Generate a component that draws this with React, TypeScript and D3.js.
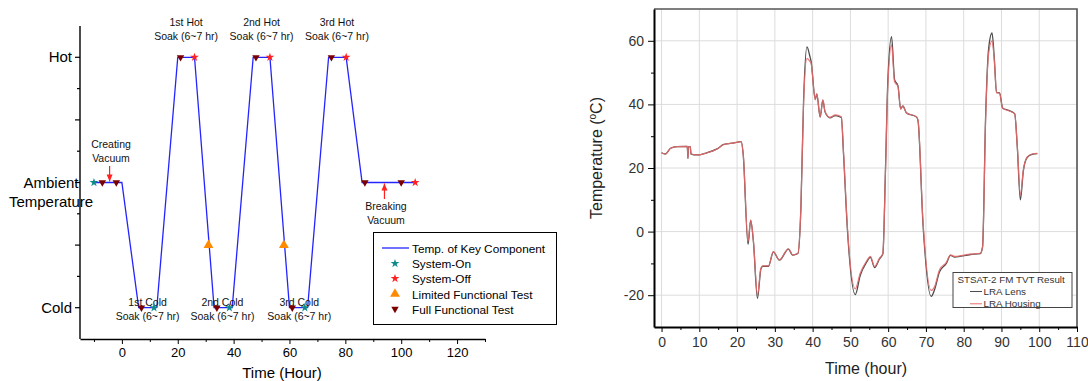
import React, { useEffect, useRef } from 'react';
import * as d3 from 'd3';

// ---- left: TVT test profile (level 0 = cold, 4 = ambient, 8 = hot) ----
const profileTime = [-10, 0, 6, 12.5, 20, 26, 33, 39.5, 47, 53, 60, 66.5, 74, 80.3, 86, 105];
const profileLevel = [4, 4, 0, 0, 8, 8, 0, 0, 8, 8, 0, 0, 8, 8, 4, 4];

const systemOnTime = [-10, 11.5, 38.5, 65.5];
const systemOnLevel = [4, 0, 0, 0];
const systemOffTime = [26, 53, 80.3, 105];
const systemOffLevel = [8, 8, 8, 4];
const limitedTestTime = [31, 58];
const limitedTestLevel = [2, 2];
const fullTestTime = [-7, -2, 7, 21, 34, 48, 61, 75, 87, 100];
const fullTestLevel = [4, 4, 0, 8, 0, 8, 0, 8, 4, 4];

const levelTicks = [0, 4, 8];
const levelNames = ['Cold', 'Ambient', 'Hot'];
const hotSoakNames = ['1st Hot', '2nd Hot', '3rd Hot'];
const hotSoakCenter = [23, 50, 77];
const coldSoakNames = ['1st Cold', '2nd Cold', '3rd Cold'];
const coldSoakCenter = [9.2, 36, 63.5];
const soakText = 'Soak (6~7 hr)';
const profileTicks = [0, 20, 40, 60, 80, 100, 120];
const profileMinorTicks = [-10, 10, 30, 50, 70, 90, 110, 130];
const profileLegend = ['Temp. of Key Component', 'System-On', 'System-Off', 'Limited Functional Test', 'Full Functional Test'];

// ---- right: STSAT-2 FM TVT result ----
const tvtTime = [0, 1, 2.4, 4.1, 6.8, 7.0, 7.1, 7.6, 7.8, 9.4, 12.1, 14.7, 16.5, 19.2, 21.1, 21.6, 22.9, 23.6, 24.3, 25.4,
	26.3, 26.8, 28.3, 29.6, 31.2, 33.6, 34.7, 36.1, 36.9, 37.6, 38.5, 39.3, 39.6, 40.7, 41.1, 42, 42.7, 43.3, 44.6, 46,
	47.6, 48.2, 49.2, 51.3, 52.6, 54.2, 55.3, 56.4, 57.7, 58.6, 59.3, 59.9, 60.9, 61.7, 62.6, 63.3, 63.9, 64.8, 67.5, 67.9,
	69.2, 71.4, 72.3, 73.6, 75.4, 76.5, 77.6, 81.8, 84.4, 85.0, 85.8, 86.6, 87.5, 88.1, 88.7, 89.5, 90.3, 91.9, 93.5, 94.2,
	95.0, 95.8, 96.8, 98.1, 99.5];
const housingTemp = [24.8, 24.4, 26.2, 26.7, 26.8, 23.0, 26.7, 26.7, 24.4, 24.1, 24.8, 26.0, 27.4, 27.9, 28.3, 24.6, -3.1, 3.7, -2.6, -20.0,
	-11.5, -10.8, -10.8, -6.3, -8.9, -5.4, -7.3, -6.8, 7.9, 40.3, 54.5, 53.5, 52.9, 41.4, 43.3, 36.1, 41.4, 37.7, 35.9, 36.7,
	36.1, 24.6, 1.6, -18.0, -13.1, -9.4, -7.8, -11.0, -8.4, -6.8, 19.4, 45.6, 58.7, 47.1, 45.6, 38.5, 39.5, 37.4, 36.1, 35.1,
	3.7, -18.5, -17.3, -12.0, -9.7, -7.3, -7.8, -7.1, -6.8, -4.7, 35.1, 56.0, 60.0, 53.9, 43.7, 43.5, 38.8, 38.0, 37.0, 26.7,
	11.5, 19.4, 23.4, 24.4, 24.6];
const lensTemp = [24.8, 24.4, 26.2, 26.7, 26.8, 23.0, 26.7, 26.7, 24.4, 24.1, 24.8, 26.0, 27.4, 27.9, 28.3, 24.6, -4.0, 3.5, -2.8, -21.0,
	-11.8, -10.9, -10.9, -6.4, -9.0, -5.5, -7.4, -6.9, 7.5, 41.0, 58.1, 55.0, 53.5, 41.6, 43.3, 36.0, 41.3, 37.6, 35.8, 36.5,
	35.9, 24.0, 0.8, -19.8, -13.8, -9.8, -8.1, -11.3, -8.6, -7.0, 20.0, 47.0, 61.3, 47.8, 45.8, 38.6, 39.5, 37.4, 36.0, 34.9,
	2.9, -20.4, -18.2, -12.6, -10.0, -7.5, -8.0, -7.2, -6.9, -4.8, 36.0, 57.5, 62.5, 54.5, 43.8, 43.6, 38.9, 38.1, 37.1, 26.5,
	10.0, 19.2, 23.3, 24.3, 24.5];
const tvtTicks = [0, 10, 20, 30, 40, 50, 60, 70, 80, 90, 100, 110];
const tvtMinorTicks = [5, 15, 25, 35, 45, 55, 65, 75, 85, 95, 105];
const tempTicks = [-20, 0, 20, 40, 60];
const tempMinorTicks = [-10, 10, 30, 50];
const tvtLegendTitle = 'STSAT-2 FM TVT Result';
const tvtSeriesNames = ['LRA Lens', 'LRA Housing'];

const FONT = "'Liberation Sans', Arial, sans-serif";
const BLUE = '#2424ff';
const TEAL = '#0f8a8a';
const RED = '#ff2020';
const ORANGE = '#ff8a00';
const DARKRED = '#7a0000';
const LENS = '#4a4a4a';
const HOUSING = '#e86a6a';

function drawProfile(g: d3.Selection<SVGGElement, unknown, null, undefined>) {
	const x = d3.scaleLinear().domain([-15, 130]).range([80, 485]);
	const y = d3.scaleLinear().domain([-1, 9]).range([339, 26]);

	// y axis with long ticks on even levels
	g.append('line').attr('x1', 80).attr('x2', 80).attr('y1', y(9)).attr('y2', y(-1)).attr('stroke', '#000').attr('stroke-width', 1.4);
	d3.range(0, 9).forEach(l => {
		g.append('line')
			.attr('x1', l % 2 === 0 ? 75 : 77)
			.attr('x2', 80)
			.attr('y1', y(l))
			.attr('y2', y(l))
			.attr('stroke', '#000')
			.attr('stroke-width', 1.2);
	});
	levelTicks.forEach((l, i) => {
		const t = g
			.append('text')
			.attr('y', y(l) + 5)
			.attr('font-size', 15)
			.attr('font-family', FONT)
			.attr('fill', '#000');
		if (levelNames[i] === 'Ambient') {
			t.attr('x', 51).attr('text-anchor', 'middle').text('Ambient');
			g.append('text')
				.attr('x', 51)
				.attr('y', y(l) + 24)
				.attr('text-anchor', 'middle')
				.attr('font-size', 15)
				.attr('font-family', FONT)
				.text('Temperature');
		} else {
			t.attr('x', 72).attr('text-anchor', 'end').text(levelNames[i]);
		}
	});

	// x axis
	g.append('g')
		.attr('transform', `translate(0,${y(-1)})`)
		.call(d3.axisBottom(x).tickValues(profileTicks).tickSize(5).tickSizeOuter(0).tickPadding(4))
		.call(a => a.select('.domain').attr('stroke-width', 1.4))
		.call(a => a.selectAll('text').attr('font-size', 13).attr('font-family', FONT).attr('fill', '#000'));
	g.append('g')
		.attr('transform', `translate(0,${y(-1)})`)
		.call(d3.axisBottom(x).tickValues(profileMinorTicks).tickSize(3).tickSizeOuter(0).tickFormat(() => ''))
		.call(a => a.select('.domain').remove());
	g.append('text')
		.attr('x', 282)
		.attr('y', 378)
		.attr('text-anchor', 'middle')
		.attr('font-size', 15)
		.attr('font-family', FONT)
		.text('Time (Hour)');

	// profile line
	const line = d3
		.line<number>()
		.x((_, i) => x(profileTime[i]))
		.y(d => y(d));
	g.append('path').datum(profileLevel).attr('d', line).attr('fill', 'none').attr('stroke', BLUE).attr('stroke-width', 1.3);

	// annotations
	const label = (tx: number, ty: number, s: string) =>
		g.append('text').attr('x', tx).attr('y', ty).attr('text-anchor', 'middle').attr('font-size', 10.5).attr('font-family', FONT).attr('fill', '#111').text(s);
	hotSoakNames.forEach((n, i) => {
		label(x(hotSoakCenter[i]), 26, n);
		label(x(hotSoakCenter[i]), 40, soakText);
	});
	coldSoakNames.forEach((n, i) => {
		label(x(coldSoakCenter[i]), 306, n);
		label(x(coldSoakCenter[i]), 320, soakText);
	});
	label(111, 148, 'Creating');
	label(111, 162, 'Vacuum');
	label(386, 210, 'Breaking');
	label(386, 224, 'Vacuum');

	const arrow = (ax: number, y1: number, y2: number) => {
		g.append('line').attr('x1', ax).attr('x2', ax).attr('y1', y1).attr('y2', y2).attr('stroke', RED).attr('stroke-width', 1.2);
		const dir = y2 > y1 ? -1 : 1;
		g.append('path')
			.attr('d', `M${ax},${y2} L${ax - 3},${y2 + dir * 7} L${ax + 3},${y2 + dir * 7} Z`)
			.attr('fill', RED);
	};
	arrow(x(-4.4), 166, y(4) - 1);
	arrow(x(94), 199, y(4) + 1);

	// markers
	const star = d3.symbol().type(d3.symbolStar).size(24);
	const tri = d3.symbol().type(d3.symbolTriangle).size(42);
	const triDown = d3.symbol().type(d3.symbolTriangle).size(24);
	const drawMarks = (ts: number[], ls: number[], path: string | null, color: string, rot: number) => {
		ts.forEach((t, i) => {
			g.append('path')
				.attr('d', path)
				.attr('transform', `translate(${x(t)},${y(ls[i])}) rotate(${rot})`)
				.attr('fill', color);
		});
	};
	drawMarks(systemOnTime, systemOnLevel, star(), TEAL, 0);
	drawMarks(systemOffTime, systemOffLevel, star(), RED, 0);
	drawMarks(limitedTestTime, limitedTestLevel, tri(), ORANGE, 0);
	drawMarks(fullTestTime, fullTestLevel, triDown(), DARKRED, 180);

	// legend
	const lg = g.append('g');
	lg.append('rect').attr('x', 373.5).attr('y', 232.5).attr('width', 183).attr('height', 92).attr('fill', '#fff').attr('stroke', '#000').attr('stroke-width', 1);
	const rowY = [248, 263.5, 278.5, 294, 309];
	profileLegend.forEach((name, i) => {
		const ry = rowY[i];
		if (i === 0) {
			lg.append('line').attr('x1', 382).attr('x2', 409).attr('y1', ry).attr('y2', ry).attr('stroke', BLUE).attr('stroke-width', 1.3);
		} else {
			const p = i === 1 || i === 2 ? star() : i === 3 ? tri() : triDown();
			const c = [BLUE, TEAL, RED, ORANGE, DARKRED][i];
			lg.append('path').attr('d', p).attr('transform', `translate(395,${ry}) rotate(${i === 4 ? 180 : 0})`).attr('fill', c);
		}
		lg.append('text').attr('x', 412).attr('y', ry + 4.5).attr('font-size', 11.8).attr('font-family', FONT).text(name);
	});
}

function drawTvt(g: d3.Selection<SVGGElement, unknown, null, undefined>) {
	const x = d3.scaleLinear().domain([-2, 110]).range([654, 1077]);
	const y = d3.scaleLinear().domain([-30, 70]).range([327, 9]);

	// grid
	g.selectAll('.vgrid')
		.data(tvtTicks)
		.enter()
		.append('line')
		.attr('x1', d => x(d))
		.attr('x2', d => x(d))
		.attr('y1', y(70))
		.attr('y2', y(-30))
		.attr('stroke', '#dcdcdc')
		.attr('stroke-width', 1);
	g.selectAll('.hgrid')
		.data(tempTicks)
		.enter()
		.append('line')
		.attr('x1', x(-2))
		.attr('x2', x(110))
		.attr('y1', d => y(d))
		.attr('y2', d => y(d))
		.attr('stroke', '#dcdcdc')
		.attr('stroke-width', 1);

	// frame top/right
	g.append('path')
		.attr('d', `M${x(-2)},${y(70)} H${x(110)} V${y(-30)}`)
		.attr('fill', 'none')
		.attr('stroke', '#555')
		.attr('stroke-width', 1.6);

	// series
	const mk = (vals: number[]) =>
		d3
			.line<number>()
			.x((_, i) => x(tvtTime[i]))
			.y(d => y(d))
			.curve(d3.curveMonotoneX)(vals);
	g.append('path').attr('d', mk(lensTemp)).attr('fill', 'none').attr('stroke', LENS).attr('stroke-width', 1.3);
	g.append('path').attr('d', mk(housingTemp)).attr('fill', 'none').attr('stroke', HOUSING).attr('stroke-width', 1.2).attr('opacity', 0.9);

	// axes
	const styleText = (a: d3.Selection<SVGGElement, unknown, null, undefined>) =>
		a.selectAll('text').attr('font-size', 14).attr('font-family', FONT).attr('fill', '#333');
	g.append('g')
		.attr('transform', `translate(0,${y(-30)})`)
		.call(d3.axisBottom(x).tickValues(tvtTicks).tickSize(5).tickSizeOuter(0).tickPadding(5).tickFormat(d => String(d)))
		.call(a => a.select('.domain').attr('stroke-width', 2))
		.call(styleText);
	g.append('g')
		.attr('transform', `translate(0,${y(-30)})`)
		.call(d3.axisBottom(x).tickValues(tvtMinorTicks).tickSize(3).tickFormat(() => ''))
		.call(a => a.select('.domain').remove());
	g.append('g')
		.attr('transform', `translate(${x(-2)},0)`)
		.call(d3.axisLeft(y).tickValues(tempTicks).tickSize(6).tickSizeOuter(0).tickPadding(4).tickFormat(d => String(d)))
		.call(a => a.select('.domain').attr('stroke-width', 2))
		.call(styleText);
	g.append('g')
		.attr('transform', `translate(${x(-2)},0)`)
		.call(d3.axisLeft(y).tickValues(tempMinorTicks).tickSize(3).tickFormat(() => ''))
		.call(a => a.select('.domain').remove());

	g.append('text')
		.attr('x', 866)
		.attr('y', 374)
		.attr('text-anchor', 'middle')
		.attr('font-size', 16)
		.attr('font-family', FONT)
		.attr('fill', '#222')
		.text('Time (hour)');
	const yl = g
		.append('text')
		.attr('transform', 'translate(602,158) rotate(-90)')
		.attr('text-anchor', 'middle')
		.attr('font-size', 16)
		.attr('font-family', FONT)
		.attr('fill', '#222');
	yl.append('tspan').text('Temperature (');
	yl.append('tspan').attr('dy', -6).attr('font-size', 10).text('o');
	yl.append('tspan').attr('dy', 6).text('C)');

	// legend
	const lg = g.append('g');
	lg.append('rect').attr('x', 953).attr('y', 272.5).attr('width', 119).attr('height', 35).attr('fill', '#fff').attr('stroke', '#444').attr('stroke-width', 1);
	lg.append('text').attr('x', 957.5).attr('y', 283).attr('font-size', 9.8).attr('font-family', FONT).attr('fill', '#333').text(tvtLegendTitle);
	[LENS, HOUSING].forEach((c, i) => {
		const ry = 291.5 + i * 12.3;
		lg.append('line').attr('x1', 970).attr('x2', 982).attr('y1', ry).attr('y2', ry).attr('stroke', c).attr('stroke-width', 1);
		lg.append('text').attr('x', 983.5).attr('y', ry + 3.5).attr('font-size', 9.8).attr('font-family', FONT).attr('fill', '#333').text(tvtSeriesNames[i]);
	});
}

export default function App() {
	const ref = useRef<SVGSVGElement>(null);
	useEffect(() => {
		const svg = d3.select(ref.current);
		svg.selectAll('g').remove();
		drawProfile(svg.append('g'));
		drawTvt(svg.append('g'));
	}, []);
	return (
		<svg
			ref={ref}
			width={1088}
			height={381}
			style={{ position: 'absolute', left: 0, top: 0, background: '#fff' }}
		/>
	);
}
